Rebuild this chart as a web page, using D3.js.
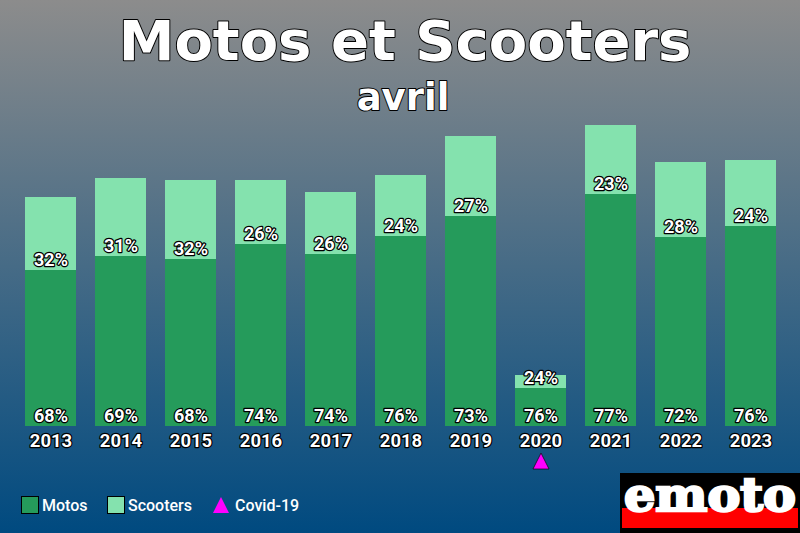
<!DOCTYPE html>
<html><head><meta charset="utf-8">
<script src="https://cdn.jsdelivr.net/npm/d3@7/dist/d3.min.js"></script>
<style>html,body{margin:0;padding:0;overflow:hidden;background:#004a80}svg{display:block}</style>
</head><body><svg id="c" width="800" height="533"></svg>
<script>
const years=["2013","2014","2015","2016","2017","2018","2019","2020","2021","2022","2023"];
const motos=[156,170,167,182,172,190,210,38,232,189,200];
const scooters=[73,78,79,64,62,61,80,13,69,75,66];
const motosPct=["68%","69%","68%","74%","74%","76%","73%","76%","77%","72%","76%"];
const scootersPct=["32%","31%","32%","26%","26%","24%","27%","24%","23%","28%","24%"];
const covidYear="2020";
const legendItems=["Motos","Scooters","Covid-19"];
const svg=d3.select("#c");
const defs=svg.append("defs");
const g=defs.append("linearGradient").attr("id","bg").attr("x1",0).attr("x2",0).attr("y1",0).attr("y2",1);
g.append("stop").attr("offset",0).attr("stop-color","#8c8c8c");
g.append("stop").attr("offset",1).attr("stop-color","#004a80");
svg.append("rect").attr("width",800).attr("height",533).attr("fill","url(#bg)");
const x=d3.scaleBand().domain(years).range([15.5,785.5]).paddingInner(19/70).paddingOuter(9.5/70);
const y=d3.scaleLinear().domain([0,320]).range([426,106]);
const G="#259b5b",L="#84e2ae";
const rows=years.map((k,i)=>({k,m:motos[i],s:scooters[i],mp:motosPct[i],sp:scootersPct[i]}));
svg.selectAll(".s").data(rows).join("rect").attr("x",d=>x(d.k)).attr("width",x.bandwidth())
 .attr("y",d=>y(d.m+d.s)).attr("height",d=>y(d.m)-y(d.m+d.s)).attr("fill",L);
svg.selectAll(".m").data(rows).join("rect").attr("x",d=>x(d.k)).attr("width",x.bandwidth())
 .attr("y",d=>y(d.m)).attr("height",d=>y(0)-y(d.m)).attr("fill",G);
function lab(sel,sw){return sel.attr("fill","#fff").attr("stroke","#000").attr("stroke-width",sw).attr("paint-order","stroke").attr("stroke-linejoin","round");}
const cx=d=>x(d.k)+x.bandwidth()/2+.5;
lab(svg.selectAll(".a").data(rows).join("text"),2.4).attr("x",cx).attr("y",y(0)-4.5).attr("text-anchor","middle")
 .attr("font-family","Roboto").attr("font-weight",700).attr("font-size",18).text(d=>d.mp);
lab(svg.selectAll(".b").data(rows).join("text"),2.4).attr("x",cx).attr("y",d=>y(d.m)-4.5).attr("text-anchor","middle")
 .attr("font-family","Roboto").attr("font-weight",700).attr("font-size",18).text(d=>d.sp);
lab(svg.selectAll(".c").data(rows).join("text"),2.4).attr("x",cx).attr("y",447).attr("text-anchor","middle")
 .attr("font-family","Roboto").attr("font-weight",700).attr("font-size",18.5).text(d=>d.k);
const tri=d3.symbol().type(d3.symbolTriangle).size(111);
svg.append("path").attr("d",tri).attr("transform",`translate(${x(covidYear)+x.bandwidth()/2+.5},463.7) scale(1,1.15)`).attr("fill","#f0f").attr("stroke","#000").attr("stroke-width",.6);
lab(svg.append("text"),2).attr("x",405).attr("y",60).attr("text-anchor","middle").attr("font-family","DejaVu Sans").attr("font-weight",700).attr("font-size",56).text("Motos et Scooters");
lab(svg.append("text"),2).attr("x",403).attr("y",110).attr("text-anchor","middle").attr("font-family","DejaVu Sans").attr("font-weight",700).attr("font-size",37).text("avril");
// legend
[[21,G],[107,L]].forEach(([lx,c])=>svg.append("rect").attr("x",lx+.5).attr("y",496.5).attr("width",17).attr("height",17).attr("fill",c).attr("stroke","#000"));
svg.append("path").attr("d",tri).attr("transform","translate(221,507.7) scale(1,1.15)").attr("fill","#f0f");
[42,128,235].forEach((lx,i)=>svg.append("text").attr("x",lx).attr("y",511).attr("fill","#fff").attr("font-family","Roboto").attr("font-weight",500).attr("font-size",16).text(legendItems[i]));
// logo
svg.append("rect").attr("x",620).attr("y",473).attr("width",180).attr("height",60).attr("fill","#000");
svg.append("rect").attr("x",622).attr("y",508).attr("width",176).attr("height",20).attr("fill","#f00");
svg.append("text").attr("x",710).attr("y",511).attr("text-anchor","middle").attr("textLength",172).attr("lengthAdjust","spacingAndGlyphs")
 .attr("fill","#fff").attr("stroke","#fff").attr("stroke-width",2.5).attr("font-family","DejaVu Serif").attr("font-weight",700).attr("font-size",46).text("emoto");
</script></body></html>
